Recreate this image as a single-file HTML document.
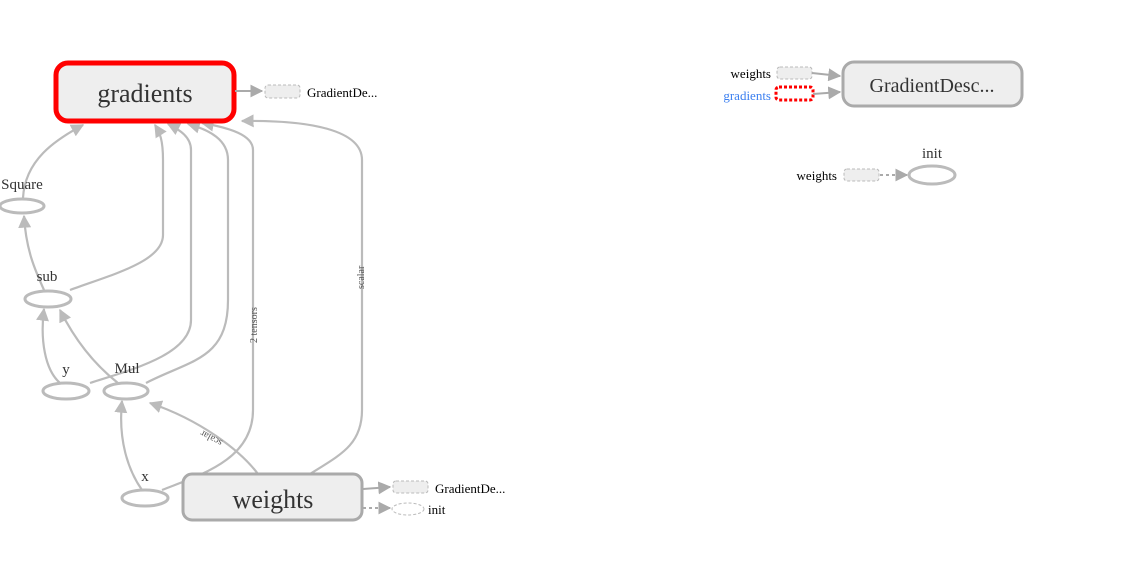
<!DOCTYPE html>
<html><head><meta charset="utf-8"><style>body{margin:0;background:#fff}svg{display:block}</style></head><body>
<svg width="1148" height="582" xmlns="http://www.w3.org/2000/svg" font-family="Liberation Serif, serif">
<defs>
<marker id="a" viewBox="0 0 10 10" refX="9" refY="5" markerWidth="13" markerHeight="13" markerUnits="userSpaceOnUse" orient="auto"><path d="M0,0L10,5L0,10z" fill="#bbb"/></marker>
<marker id="b" viewBox="0 0 10 10" refX="9" refY="5" markerWidth="13" markerHeight="13" markerUnits="userSpaceOnUse" orient="auto"><path d="M0,0L10,5L0,10z" fill="#aaa"/></marker>
</defs>
<g fill="none" stroke="#bbb" stroke-width="2.2" marker-end="url(#a)">
<path d="M23,198 C25,160 55,140 83,125"/>
<path d="M44,290 C35,270 26,250 24,216"/>
<path d="M70,290 C110,275 163,262 163,235 L163,160 C163,140 160,133 155,125"/>
<path d="M60,383 C45,370 40,340 44,309"/>
<path d="M118,383 C95,365 75,340 60,310"/>
<path d="M90,383 C130,370 191,355 191,320 L191,150 C191,137 180,130 168,124"/>
<path d="M146,383 C190,360 228,360 228,300 L228,160 C228,140 210,130 188,124"/>
<path d="M142,490 C128,470 118,440 122,401"/>
<path d="M258,474 C240,450 200,420 150,403"/>
<path d="M162,490 C200,475 253,460 253,410 L253,150 C253,135 230,128 202,123"/>
<path d="M310,474 C340,455 362,445 362,410 L362,160 C362,130 310,120 242,121"/>
</g>
<text transform="translate(257,343) rotate(-90)" font-size="10" fill="#555">2 tensors</text>
<text transform="translate(364,289) rotate(-90)" font-size="10" fill="#555">scalar</text>
<text transform="translate(223,441) rotate(208)" font-size="10" fill="#555">scalar</text>
<rect x="56" y="63" width="178" height="58" rx="12" fill="#eee" stroke="#f00" stroke-width="5"/>
<text x="145" y="102" font-size="26" text-anchor="middle" fill="#333">gradients</text>
<path d="M235,91 L262,91" stroke="#aaa" stroke-width="2" marker-end="url(#b)"/>
<rect x="265" y="85" width="35" height="13" rx="3" fill="#eee" stroke="#bbb" stroke-dasharray="3,2"/>
<text x="307" y="97" font-size="13" fill="#000">GradientDe...</text>
<g fill="#fff" stroke="#bbb" stroke-width="3">
<ellipse cx="22" cy="206" rx="22" ry="7"/>
<ellipse cx="48" cy="299" rx="23" ry="8"/>
<ellipse cx="66" cy="391" rx="23" ry="8"/>
<ellipse cx="126" cy="391" rx="22" ry="8"/>
<ellipse cx="145" cy="498" rx="23" ry="8"/>
</g>
<g font-size="15" fill="#333" text-anchor="middle">
<text x="22" y="189">Square</text>
<text x="47" y="281">sub</text>
<text x="66" y="374">y</text>
<text x="127" y="373">Mul</text>
<text x="145" y="481">x</text>
</g>
<rect x="183" y="474" width="179" height="46" rx="9" fill="#eee" stroke="#aaa" stroke-width="3"/>
<text x="273" y="508" font-size="26" text-anchor="middle" fill="#333">weights</text>
<path d="M363,489 L390,487" stroke="#aaa" stroke-width="2" marker-end="url(#b)"/>
<rect x="393" y="481" width="35" height="12" rx="3" fill="#eee" stroke="#bbb" stroke-dasharray="3,2"/>
<text x="435" y="493" font-size="13" fill="#000">GradientDe...</text>
<path d="M363,508 L390,508" stroke="#aaa" stroke-width="2" stroke-dasharray="3,3" marker-end="url(#b)"/>
<ellipse cx="408" cy="509" rx="16" ry="6" fill="#fff" stroke="#bbb" stroke-dasharray="3,2"/>
<text x="428" y="514" font-size="13" fill="#000">init</text>
<rect x="843" y="62" width="179" height="44" rx="11" fill="#eee" stroke="#aaa" stroke-width="3"/>
<text x="932" y="92" font-size="20" text-anchor="middle" fill="#333">GradientDesc...</text>
<text x="771" y="78" font-size="13" text-anchor="end" fill="#000">weights</text>
<rect x="777" y="67" width="35" height="12" rx="3" fill="#eee" stroke="#bbb" stroke-dasharray="3,2"/>
<text x="771" y="100" font-size="13" text-anchor="end" fill="#3b7ff0">gradients</text>
<rect x="776" y="87" width="37" height="13" rx="3" fill="#fff" stroke="#f00" stroke-width="3" stroke-dasharray="3,2"/>
<path d="M812,73 L840,76" stroke="#aaa" stroke-width="2" marker-end="url(#b)"/>
<path d="M813,94 L840,92" stroke="#aaa" stroke-width="2" marker-end="url(#b)"/>
<text x="932" y="158" font-size="15" text-anchor="middle" fill="#333">init</text>
<ellipse cx="932" cy="175" rx="23" ry="9" fill="#fff" stroke="#bbb" stroke-width="3"/>
<text x="837" y="180" font-size="13" text-anchor="end" fill="#000">weights</text>
<rect x="844" y="169" width="35" height="12" rx="3" fill="#eee" stroke="#bbb" stroke-dasharray="3,2"/>
<path d="M880,175 L907,175" stroke="#aaa" stroke-width="2" stroke-dasharray="3,3" marker-end="url(#b)"/>
</svg>
</body></html>
